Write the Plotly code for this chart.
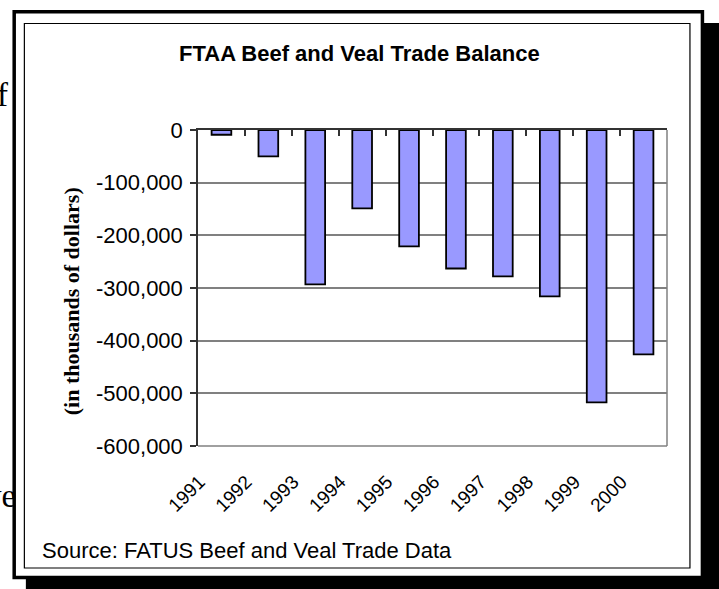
import plotly.graph_objects as go

years = [1991, 1992, 1993, 1994, 1995, 1996, 1997, 1998, 1999, 2000]
year_labels = [str(y) for y in years]
balance = [-9000, -50000, -293000, -149000, -221000, -263000, -278000, -316000, -517000, -426000]
y_ticks = [0, -100000, -200000, -300000, -400000, -500000, -600000]
y_tick_labels = ["0", "-100,000", "-200,000", "-300,000", "-400,000", "-500,000", "-600,000"]

W, H = 719, 589
L, R, T, B = 197.5, 667.5, 130, 446
PW, PH = R - L, B - T


def px(x):
    return (x - L) / PW


def py(y):
    return (B - y) / PH


fig = go.Figure()
fig.add_trace(go.Bar(
    x=years, y=balance, width=0.42,
    marker=dict(color="#9999FF", line=dict(color="black", width=1.8)),
    xaxis="x", yaxis="y", showlegend=False,
))
# invisible trace to activate top axis (ticks between categories)
fig.add_trace(go.Scatter(x=[years[0]], y=[0], xaxis="x2", yaxis="y",
                         mode="markers", marker=dict(opacity=0), showlegend=False,
                         hoverinfo="skip"))

arial = "Liberation Sans, Arial, sans-serif"
times = "Liberation Serif, Times New Roman, serif"

fig.update_layout(
    width=W, height=H,
    margin=dict(l=L, r=W - R, t=T, b=H - B, pad=0),
    paper_bgcolor="white",
    plot_bgcolor="rgba(0,0,0,0)",
    xaxis=dict(
        range=[years[0] - 0.5, years[-1] + 0.5],
        tickmode="array", tickvals=years, ticktext=year_labels,
        tickangle=-45, showgrid=False, zeroline=False, showline=False,
        ticks="", tickfont=dict(family=arial, size=19, color="black"),
        ticklabelstandoff=20, ticklabelshift=-22,
    ),
    xaxis2=dict(
        overlaying="x", side="top", anchor="y",
        range=[years[0] - 0.5, years[-1] + 0.5],
        tickmode="array", tickvals=[y + 0.5 for y in years[:-1]],
        showticklabels=False, ticks="inside", ticklen=6, tickwidth=1.5,
        tickcolor="#333333", showline=True, linecolor="#333333", linewidth=1.5,
        showgrid=False, zeroline=False,
    ),
    yaxis=dict(
        range=[y_ticks[-1], y_ticks[0]],
        tickmode="array", tickvals=y_ticks, ticktext=y_tick_labels,
        showgrid=True, gridcolor="#808080", gridwidth=1.5,
        zeroline=False, showline=True, linecolor="#333333", linewidth=1.5,
        ticks="outside", ticklen=6, tickwidth=1.5, tickcolor="#333333",
        tickfont=dict(family=arial, size=22, color="black"),
        ticklabelstandoff=3,
    ),
)

shapes = []
# shadow
shapes.append(dict(type="rect", xref="paper", yref="paper", layer="below",
                   x0=px(25), x1=px(730), y0=py(23), y1=py(600),
                   fillcolor="black", line=dict(width=0)))
# outer frame
shapes.append(dict(type="rect", xref="paper", yref="paper", layer="below",
                   x0=px(13.3), x1=px(703), y0=py(11.7), y1=py(577.5),
                   fillcolor="white", line=dict(color="black", width=3.5)))
# inner chart border
shapes.append(dict(type="rect", xref="paper", yref="paper", layer="below",
                   x0=px(23.5), x1=px(690.5), y0=py(23.5), y1=py(568),
                   fillcolor="rgba(0,0,0,0)", line=dict(color="black", width=1.2)))
# plot area right and bottom border
shapes.append(dict(type="line", xref="paper", yref="paper", layer="below",
                   x0=1, x1=1, y0=0, y1=1, line=dict(color="#808080", width=1.5)))
shapes.append(dict(type="line", xref="paper", yref="paper", layer="below",
                   x0=0, x1=1, y0=0, y1=0, line=dict(color="#808080", width=1.5)))
fig.update_layout(shapes=shapes)

ann = []
ann.append(dict(text="<b>FTAA Beef and Veal Trade Balance</b>", xref="paper", yref="paper",
                x=px(359), y=py(53), xanchor="center", yanchor="middle", showarrow=False,
                font=dict(family=arial, size=22, color="black")))
ann.append(dict(text="<b>(in thousands of dollars)</b>", xref="paper", yref="paper",
                x=px(71), y=py(301.5), xanchor="center", yanchor="middle", showarrow=False,
                textangle=-90, font=dict(family=times, size=22, color="black")))
ann.append(dict(text="Source: FATUS Beef and Veal Trade Data", xref="paper", yref="paper",
                x=px(39), y=py(550), xanchor="left", yanchor="middle", showarrow=False,
                font=dict(family=arial, size=22, color="black")))
# fragments of the surrounding document text
ann.append(dict(text="f", xref="paper", yref="paper",
                x=px(9), y=py(95), xanchor="right", yanchor="middle", showarrow=False,
                font=dict(family=times, size=33, color="black")))
ann.append(dict(text="ve", xref="paper", yref="paper",
                x=px(17), y=py(496), xanchor="right", yanchor="middle", showarrow=False,
                font=dict(family=times, size=33, color="black")))
fig.update_layout(annotations=ann)

fig.write_html("out.html", config={"displayModeBar": False},
               post_script="document.body.style.margin='0px';")
